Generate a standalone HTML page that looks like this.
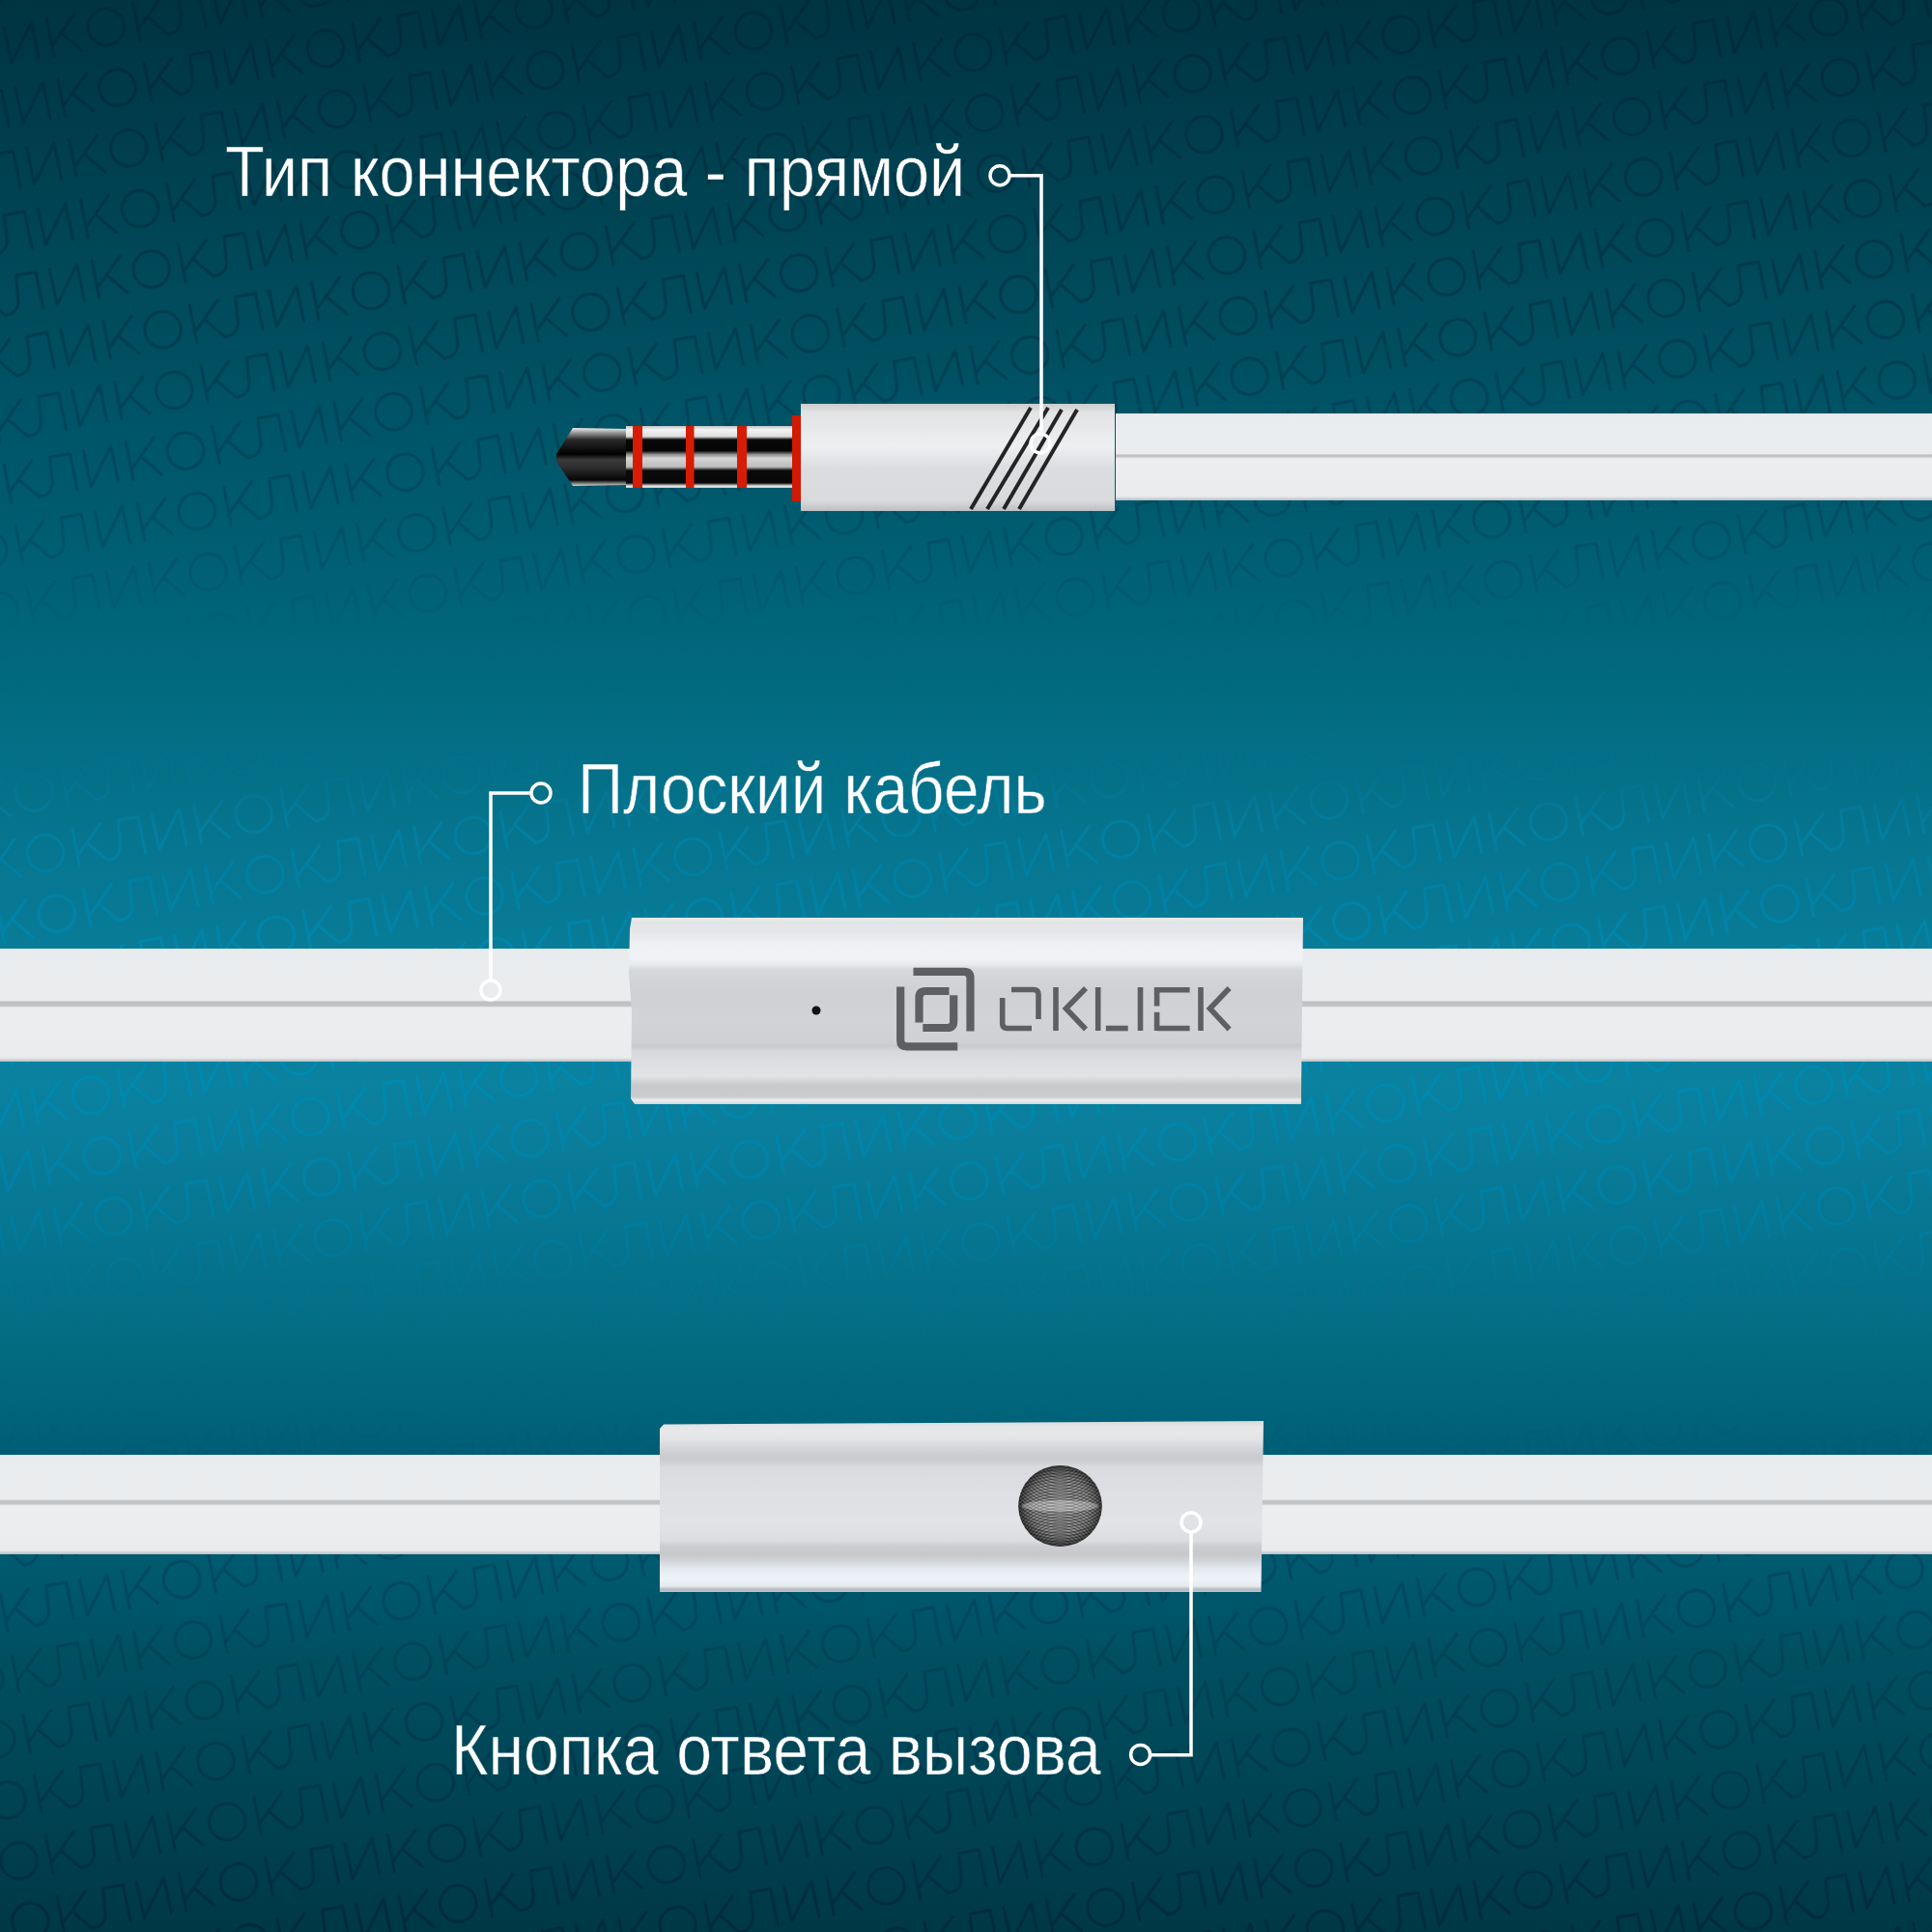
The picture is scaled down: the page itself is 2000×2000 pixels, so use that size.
<!DOCTYPE html>
<html><head><meta charset="utf-8">
<style>
html,body{margin:0;padding:0;}
body{width:2000px;height:2000px;overflow:hidden;position:relative;
background:linear-gradient(to bottom,#003441 0px,#003543 25px,#004a5b 300px,#005a6e 520px,#005f74 580px,#026b80 720px,#077792 900px,#087c98 980px,#0a82a0 1120px,#0a7e9c 1170px,#067590 1280px,#036b80 1400px,#005f76 1500px,#005a6f 1620px,#005062 1710px,#003a48 1975px,#003946 2000px);
font-family:"Liberation Sans",sans-serif;}
.abs{position:absolute;}
.lbl{position:absolute;color:#fff;font-size:74px;white-space:nowrap;transform-origin:0 0;line-height:1;}
.cable{position:absolute;background:linear-gradient(to bottom,#d8dadc 0,#eceef0 4%,#e9ebed 45%,#c6c7c9 48%,#c6c7c9 51%,#eceef0 54%,#e8eaec 95%,#b9bec2 100%);}
.wire{position:absolute;background:#fff;}
.ring{position:absolute;width:17px;height:17px;border:3px solid #fff;border-radius:50%;box-sizing:content-box;}
</style></head>
<body>
<svg class="abs" id="wm" style="left:0;top:0" width="2000" height="2000">
<defs>
<pattern id="wmp" patternUnits="userSpaceOnUse" width="219.35" height="63.76" patternTransform="translate(1246.45,139.04) rotate(-10.63) translate(-20,-32)">
<g fill="none" stroke="#fff" stroke-width="3" stroke-linejoin="round" stroke-linecap="round">
<circle cx="20" cy="32" r="18.75"/>
<path d="M52.0,12.0 L52.2,51.3 M81.5,12.3 L52.5,40.5 M64.5,29.7 L82.0,51.3"/>
<path d="M83.5,50.8 Q94.0,51.8 97.8,40.0 L100.0,12.5 L121.2,12.8 L121.8,51.0"/>
<path d="M135.5,12.4 L136.6,50.5 L164.3,12.6 L165.1,50.6"/>
<path d="M180.5,12.0 L180.7,51.3 M210.0,12.3 L181.0,40.5 M193.0,29.7 L210.5,51.3"/>
</g>
</pattern>
<mask id="wmm" maskUnits="userSpaceOnUse" x="0" y="0" width="2000" height="2000"><rect x="0" y="0" width="2000" height="2000" fill="url(#wmp)"/></mask>
<linearGradient id="wmc" gradientUnits="userSpaceOnUse" x1="0" y1="0" x2="0" y2="2000">
<stop offset="0.0000" stop-color="#002a3a"/>
<stop offset="0.1500" stop-color="#003a4c"/>
<stop offset="0.2600" stop-color="#004b60"/>
<stop offset="0.3000" stop-color="#005870"/>
<stop offset="0.3300" stop-color="#01667b"/>
<stop offset="0.3600" stop-color="#026b80"/>
<stop offset="0.4000" stop-color="#05718c"/>
<stop offset="0.4300" stop-color="#037ea0"/>
<stop offset="0.4500" stop-color="#017fa2"/>
<stop offset="0.4900" stop-color="#0086ab"/>
<stop offset="0.5600" stop-color="#008ab0"/>
<stop offset="0.6250" stop-color="#007fa4"/>
<stop offset="0.6600" stop-color="#037490"/>
<stop offset="0.7000" stop-color="#036b80"/>
<stop offset="0.7300" stop-color="#01647b"/>
<stop offset="0.7500" stop-color="#005b74"/>
<stop offset="0.8000" stop-color="#004e66"/>
<stop offset="0.8100" stop-color="#004a62"/>
<stop offset="0.8550" stop-color="#00445a"/>
<stop offset="0.9875" stop-color="#002c3e"/>
<stop offset="1.0000" stop-color="#002b3c"/>
</linearGradient>
</defs>
<rect x="0" y="0" width="2000" height="2000" fill="url(#wmc)" mask="url(#wmm)"/>
</svg>

<!-- label 1 -->
<div class="lbl" id="l1" style="left:233px;top:141px;transform:scaleX(0.901);-webkit-text-stroke:0.6px #003d4e">Тип коннектора - прямой</div>
<!-- label 2 -->
<div class="lbl" id="l2" style="left:598px;top:780px;transform:scaleX(0.886);-webkit-text-stroke:0.6px #047290">Плоский кабель</div>
<!-- label 3 -->
<div class="lbl" id="l3" style="left:467px;top:1775px;transform:scaleX(0.894);-webkit-text-stroke:0.6px #00495c">Кнопка ответа вызова</div>

<!-- cable 1 -->
<div class="abs" style="left:1155px;top:428px;width:845px;height:90px;background:linear-gradient(to bottom,#dfe3e6 0px,#e9ecee 2px,#eaecee 41.5px,#d0d1d3 42.5px,#bfc0c2 43.5px,#c3c4c6 45.0px,#e4e6e8 46.0px,#eceef0 47.5px,#e9ebed 86px,#c9cdd0 88.5px,#b8bdc1 90px);"></div>
<!-- cable 2 -->
<div class="abs" style="left:0;top:981.5px;width:2000px;height:117px;background:linear-gradient(to bottom,#dfe3e6 0px,#e9ecee 2px,#eaecee 53.5px,#d0d1d3 54.5px,#bfc0c2 55.5px,#c3c4c6 59.5px,#e4e6e8 60.5px,#eceef0 62.0px,#e9ebed 113px,#c9cdd0 115.5px,#b8bdc1 117px);"></div>
<!-- cable 3 -->
<div class="abs" style="left:0;top:1506px;width:2000px;height:103px;background:linear-gradient(to bottom,#dfe3e6 0px,#e9ecee 2px,#eaecee 46.0px,#d0d1d3 47.0px,#bfc0c2 48.0px,#c3c4c6 51.0px,#e4e6e8 52.0px,#eceef0 53.5px,#e9ebed 99px,#c9cdd0 101.5px,#b8bdc1 103px);"></div>

<!-- housing 1 -->
<div class="abs" style="left:829px;top:418px;width:325px;height:111px;background:linear-gradient(to bottom,#c9cbcd 0,#e2e3e5 8%,#eeeff1 40%,#dcdde0 60%,#d9dadc 90%,#bfc0c3 100%);"></div>
<!-- housing 2 -->
<div class="abs" style="left:651px;top:950px;width:698px;height:193px;clip-path:polygon(3px 0,100% 0,99.7% 100%,6px 100%,2px 97%,3px 50%,0 30%,1px 6%);background:linear-gradient(to bottom,#e8e9eb 0,#e3e4e6 2.5%,#e6e7ea 8%,#eff0f3 14%,#f1f2f5 22%,#e9eaed 25%,#d6d7da 28%,#cfd0d3 40%,#d2d3d6 55%,#d0d1d4 66%,#c9cacd 69%,#d8d9dc 72%,#dddee1 78%,#e2e3e5 85%,#d4d5d7 87.5%,#c8c9cb 90%,#cacbcd 96%,#eeeff0 98%,#d0d2d4 100%);"></div>
<!-- housing 3 -->
<div class="abs" style="left:683px;top:1471px;width:625px;height:177px;clip-path:polygon(4px 3.5px,100% 0,99.6% 100%,0 100%,0 8px);background:linear-gradient(to bottom,#d8d9db 0,#e5e6e8 3%,#e7e8ea 6%,#e2e3e5 11%,#d4d5d8 16%,#c9cacd 21%,#ccced1 23.5%,#dadbde 27%,#dfe0e3 45%,#e2e3e6 60%,#dcdde0 70%,#cdced1 73%,#c6c8cb 78%,#cfd3d7 81.5%,#e2e8ee 86%,#eef3f8 92%,#e6ebf0 96.5%,#b5b9bd 98.5%,#c3c7ca 100%);"></div>
<svg class="abs" style="left:1050px;top:1512px" width="96" height="94" viewBox="1050 1512 96 94">
<defs>
<clipPath id="btnc"><ellipse cx="1097.5" cy="1559" rx="43.3" ry="42"/></clipPath>
<radialGradient id="btng" cx="0.5" cy="0.5" r="0.5"><stop offset="0" stop-color="#b0b0b0"/><stop offset="0.75" stop-color="#8a8a8a"/><stop offset="1" stop-color="#4a4a4a"/></radialGradient>
<radialGradient id="btnv" cx="0.5" cy="0.5" r="0.5"><stop offset="0.6" stop-color="#000" stop-opacity="0"/><stop offset="1" stop-color="#000" stop-opacity="0.45"/></radialGradient>
</defs>
<g clip-path="url(#btnc)">
<rect x="1050" y="1512" width="96" height="94" fill="url(#btng)"/>
<g fill="none" stroke="#0a0a0a" stroke-width="1.1" opacity="0.42"><circle cx="1097.5" cy="1507" r="8"/><circle cx="1097.5" cy="1507" r="11"/><circle cx="1097.5" cy="1507" r="14"/><circle cx="1097.5" cy="1507" r="17"/><circle cx="1097.5" cy="1507" r="20"/><circle cx="1097.5" cy="1507" r="23"/><circle cx="1097.5" cy="1507" r="26"/><circle cx="1097.5" cy="1507" r="29"/><circle cx="1097.5" cy="1507" r="32"/><circle cx="1097.5" cy="1507" r="35"/><circle cx="1097.5" cy="1507" r="38"/><circle cx="1097.5" cy="1507" r="41"/><circle cx="1097.5" cy="1507" r="44"/><circle cx="1097.5" cy="1507" r="47"/><circle cx="1097.5" cy="1507" r="50"/><circle cx="1097.5" cy="1507" r="53"/><circle cx="1097.5" cy="1507" r="56"/><circle cx="1097.5" cy="1507" r="59"/><circle cx="1097.5" cy="1507" r="62"/><circle cx="1097.5" cy="1507" r="65"/><circle cx="1097.5" cy="1507" r="68"/><circle cx="1097.5" cy="1507" r="71"/><circle cx="1097.5" cy="1507" r="74"/><circle cx="1097.5" cy="1507" r="77"/><circle cx="1097.5" cy="1507" r="80"/><circle cx="1097.5" cy="1507" r="83"/><circle cx="1097.5" cy="1507" r="86"/><circle cx="1097.5" cy="1507" r="89"/><circle cx="1097.5" cy="1507" r="92"/><circle cx="1097.5" cy="1507" r="95"/><circle cx="1097.5" cy="1507" r="98"/><circle cx="1097.5" cy="1507" r="101"/><circle cx="1097.5" cy="1507" r="104"/><circle cx="1097.5" cy="1507" r="107"/></g>
<g fill="none" stroke="#0a0a0a" stroke-width="1.1" opacity="0.42"><circle cx="1097.5" cy="1611" r="8"/><circle cx="1097.5" cy="1611" r="11"/><circle cx="1097.5" cy="1611" r="14"/><circle cx="1097.5" cy="1611" r="17"/><circle cx="1097.5" cy="1611" r="20"/><circle cx="1097.5" cy="1611" r="23"/><circle cx="1097.5" cy="1611" r="26"/><circle cx="1097.5" cy="1611" r="29"/><circle cx="1097.5" cy="1611" r="32"/><circle cx="1097.5" cy="1611" r="35"/><circle cx="1097.5" cy="1611" r="38"/><circle cx="1097.5" cy="1611" r="41"/><circle cx="1097.5" cy="1611" r="44"/><circle cx="1097.5" cy="1611" r="47"/><circle cx="1097.5" cy="1611" r="50"/><circle cx="1097.5" cy="1611" r="53"/><circle cx="1097.5" cy="1611" r="56"/><circle cx="1097.5" cy="1611" r="59"/><circle cx="1097.5" cy="1611" r="62"/><circle cx="1097.5" cy="1611" r="65"/><circle cx="1097.5" cy="1611" r="68"/><circle cx="1097.5" cy="1611" r="71"/><circle cx="1097.5" cy="1611" r="74"/><circle cx="1097.5" cy="1611" r="77"/><circle cx="1097.5" cy="1611" r="80"/><circle cx="1097.5" cy="1611" r="83"/><circle cx="1097.5" cy="1611" r="86"/><circle cx="1097.5" cy="1611" r="89"/><circle cx="1097.5" cy="1611" r="92"/><circle cx="1097.5" cy="1611" r="95"/><circle cx="1097.5" cy="1611" r="98"/><circle cx="1097.5" cy="1611" r="101"/><circle cx="1097.5" cy="1611" r="104"/><circle cx="1097.5" cy="1611" r="107"/></g>
<rect x="1050" y="1512" width="96" height="94" fill="url(#btnv)"/>
<ellipse cx="1097.5" cy="1559" rx="40" ry="6" fill="#fff" opacity="0.3"/>
</g>
</svg>



<!-- jack plug -->
<svg class="abs" style="left:560px;top:410px" width="280" height="130" viewBox="560 410 280 130">
<defs>
<linearGradient id="tipg" x1="0" y1="0" x2="0" y2="1">
<stop offset="0" stop-color="#f0f0f0"/><stop offset="0.08" stop-color="#9a9a9a"/><stop offset="0.2" stop-color="#2a2a2a"/><stop offset="0.45" stop-color="#000"/><stop offset="0.55" stop-color="#3a3a3a"/><stop offset="0.7" stop-color="#2b2b2b"/><stop offset="0.9" stop-color="#050505"/><stop offset="1" stop-color="#d8d8d8"/>
</linearGradient>
<linearGradient id="slvg" x1="0" y1="0" x2="0" y2="1">
<stop offset="0" stop-color="#bfc4c6"/><stop offset="0.06" stop-color="#f4f4f4"/><stop offset="0.17" stop-color="#dcdcdc"/><stop offset="0.22" stop-color="#0a0a0a"/><stop offset="0.4" stop-color="#050505"/><stop offset="0.46" stop-color="#8c8c8c"/><stop offset="0.52" stop-color="#d4d4d4"/><stop offset="0.66" stop-color="#bdbdbd"/><stop offset="0.72" stop-color="#0a0a0a"/><stop offset="0.92" stop-color="#080808"/><stop offset="0.97" stop-color="#e8e8e8"/><stop offset="1" stop-color="#c8cdd0"/>
</linearGradient>
</defs>
<path d="M576,470 L593,443 L649,444 L649,502 L593,503 L576,478 Z" fill="url(#tipg)"/>
<rect x="648" y="441" width="174" height="64" fill="url(#slvg)"/>
<rect x="655" y="441" width="10" height="64" fill="#d61c04"/>
<rect x="710" y="441" width="8.5" height="64" fill="#d61c04"/>
<rect x="763" y="441" width="10" height="64" fill="#d61c04"/>
<rect x="820" y="430" width="9" height="89" fill="#d01a04"/>
</svg>

<!-- housing 1 slashes -->
<svg class="abs" style="left:0;top:0" width="2000" height="2000">
<g stroke="#151515" stroke-width="4" stroke-linecap="butt" opacity="0.92">
<line x1="1005" y1="527" x2="1067" y2="422"/>
<line x1="1022" y1="527" x2="1085" y2="422"/>
<line x1="1039" y1="527" x2="1099" y2="424"/>
<line x1="1055" y1="527" x2="1115" y2="424"/>
</g>
<defs><filter id="blur1" x="-10%" y="-10%" width="120%" height="120%"><feGaussianBlur stdDeviation="0.6"/></filter></defs>
<!-- leader lines -->
<g stroke="#fff" stroke-width="3.5" fill="none">
<polyline points="1046,181.7 1078,181.7 1078,447"/>
<circle cx="1035" cy="181.7" r="10"/>
<circle cx="1077" cy="459" r="10"/>
<polyline points="549,821 508,821 508,1014"/>
<circle cx="560" cy="821" r="10"/>
<circle cx="508" cy="1025" r="10"/>
<polyline points="1233,1587 1233,1816.8 1192,1816.8"/>
<circle cx="1233" cy="1576" r="10"/>
<circle cx="1180.6" cy="1816.4" r="10"/>
</g>
<!-- mic dot -->
<circle cx="845" cy="1046" r="4.5" fill="#111"/>
<!-- logo -->
<g fill="none" stroke="#5e5f63" stroke-width="8.2" stroke-linecap="butt">
<path d="M932.2,1021.5 V1077 Q932.2,1083.3 938.5,1083.3 H991.2"/>
<path d="M945.5,1005.8 H998 Q1004.5,1005.8 1004.5,1012.3 V1067.5"/>
<path d="M951.5,1058.5 V1032.5 Q951.5,1026 958,1026 H982.5"/>
<path d="M955.3,1064 H980.5 Q987.2,1064 987.2,1057.3 V1030.2"/>
</g>
<g fill="none" stroke="#5e5f63" stroke-width="5.6" stroke-linecap="butt">
<path d="M1047,1024.5 H1070 Q1075,1024.5 1075,1029.5 V1055"/>
<path d="M1037.7,1033 V1059.5 Q1037.7,1064.5 1042.7,1064.5 H1068"/>
<path d="M1093,1022 V1067"/>
<path d="M1124,1023 L1103.5,1044 L1124,1065.5"/>
<path d="M1136.7,1022 V1067"/>
<path d="M1144.8,1064.5 H1167.7"/>
<path d="M1180.5,1022 V1067"/>
<path d="M1197.6,1022 V1041.6 M1197.6,1047.7 V1067"/>
<path d="M1198,1024.7 H1231.6 M1198,1064.5 H1231.6"/>
<path d="M1243,1022 V1067"/>
<path d="M1272.6,1023 L1252.5,1044 L1272.6,1065.5"/>
</g>
</svg>
</body></html>
